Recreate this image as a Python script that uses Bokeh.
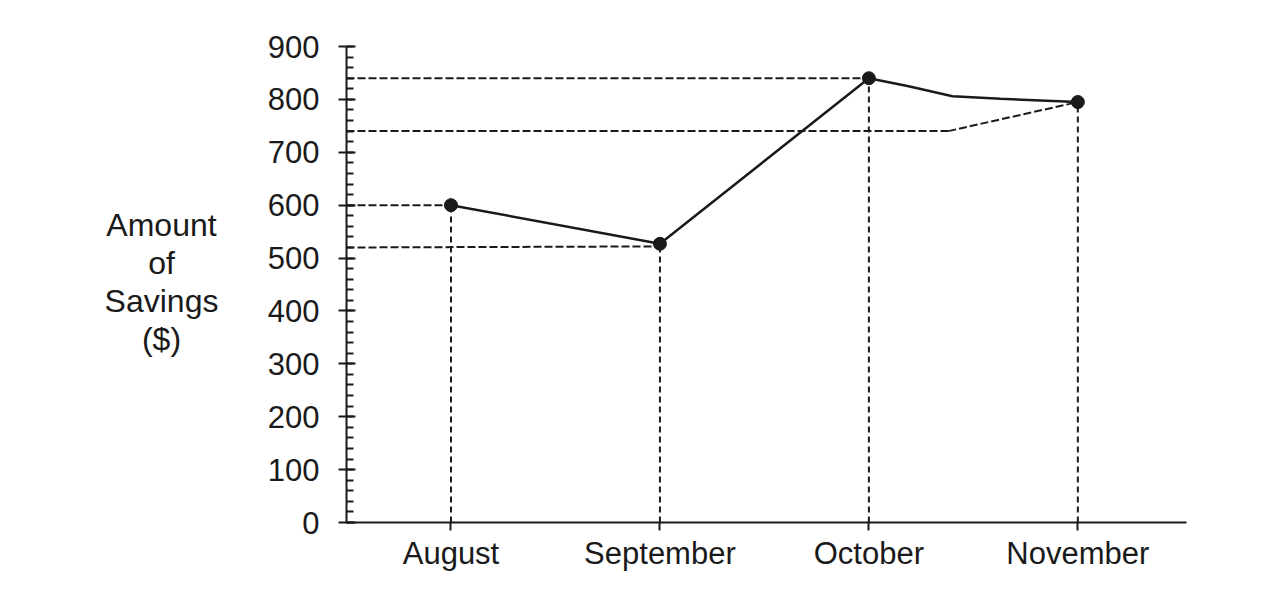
from bokeh.plotting import figure
from bokeh.layouts import row
from bokeh.models import Range1d, SingleIntervalTicker, FixedTicker
from bokeh.core.properties import value
from bokeh.embed import file_html
from bokeh.resources import INLINE

# ---- data ----
months = ["August", "September", "October", "November"]
month_pos = [1, 2, 3, 4]
savings = [600, 527, 840, 795]

# hand-drawn solid line path between Oct and Nov (slight curve)
curve_x = [3, 3.19, 3.4, 3.63, 4]
curve_y = [840, 825, 806, 801, 795]

# horizontal dashed guide levels read at the y axis, and where they end
guide_levels = [600, 520, 840, 740]
guide_end_x = [1, 2, 3, 3.38]
guide_end_y = [600, 522, 840, 740]
# the 740 guide bends up to the November point
bend_x = [3.38, 4]
bend_y = [740, 795]

y_title = "Amount\nof\nSavings\n($)"
y_ticks_interval = 100
font = "Liberation Sans"
ink = "#1a1a1a"
H = 596

# ---- left strip holding the horizontal y-axis title ----
lab = figure(width=250, height=H, output_backend="svg", toolbar_location=None,
             x_range=Range1d(0, 250), y_range=Range1d(0, H),
             min_border_left=0, min_border_right=0, min_border_top=0, min_border_bottom=0)
lab.axis.visible = False
lab.grid.visible = False
lab.outline_line_color = None
lab.text(x=[161], y=[301], text=[y_title], text_align="center", text_baseline="middle",
         text_font=value(font), text_font_size="32px", text_color=ink, text_line_height=1.05)

# ---- main chart ----
p = figure(width=996, height=H, output_backend="svg", toolbar_location=None,
           x_range=Range1d(0.5, 4.52), y_range=Range1d(0, 900),
           min_border_left=96, min_border_right=60, min_border_top=46, min_border_bottom=74)
p.outline_line_color = None
p.grid.visible = False
p.background_fill_color = "white"

# y axis
p.yaxis.ticker = SingleIntervalTicker(interval=y_ticks_interval, num_minor_ticks=5)
p.yaxis.axis_line_color = ink
p.yaxis.axis_line_width = 2
p.yaxis.major_tick_line_color = ink
p.yaxis.major_tick_line_width = 2
p.yaxis.major_tick_out = 8
p.yaxis.major_tick_in = 9
p.yaxis.minor_tick_line_color = ink
p.yaxis.minor_tick_line_width = 2
p.yaxis.minor_tick_out = 0
p.yaxis.minor_tick_in = 7
p.yaxis.major_label_text_font = font
p.yaxis.major_label_text_font_size = "31px"
p.yaxis.major_label_text_color = ink
p.yaxis.major_label_standoff = 19

# x axis
p.xaxis.ticker = FixedTicker(ticks=month_pos)
p.xaxis.major_label_overrides = {pos: m for pos, m in zip(month_pos, months)}
p.xaxis.axis_line_color = ink
p.xaxis.axis_line_width = 2
p.xaxis.major_tick_line_color = ink
p.xaxis.major_tick_line_width = 2
p.xaxis.major_tick_out = 8
p.xaxis.major_tick_in = 0
p.xaxis.minor_tick_line_color = None
p.xaxis.major_label_text_font = font
p.xaxis.major_label_text_font_size = "31px"
p.xaxis.major_label_text_color = ink
p.xaxis.major_label_standoff = 5

# horizontal dashed guides
for lvl, ex, ey in zip(guide_levels, guide_end_x, guide_end_y):
    p.line([0.5, ex], [lvl, ey], line_color=ink, line_width=2, line_dash="8 3")
p.line(bend_x, bend_y, line_color=ink, line_width=2, line_dash="8 3")

# vertical dashed drops
for xp, v in zip(month_pos, savings):
    p.line([xp, xp], [0, v], line_color=ink, line_width=2, line_dash="6 4")

# solid data line
p.line(month_pos[:3], savings[:3], line_color=ink, line_width=2.5)
p.line(curve_x, curve_y, line_color=ink, line_width=2.5)
p.scatter(month_pos, savings, size=13, fill_color=ink, line_color=ink)

layout = row(lab, p, spacing=0)
open("out.html", "w").write(file_html(layout, INLINE))
